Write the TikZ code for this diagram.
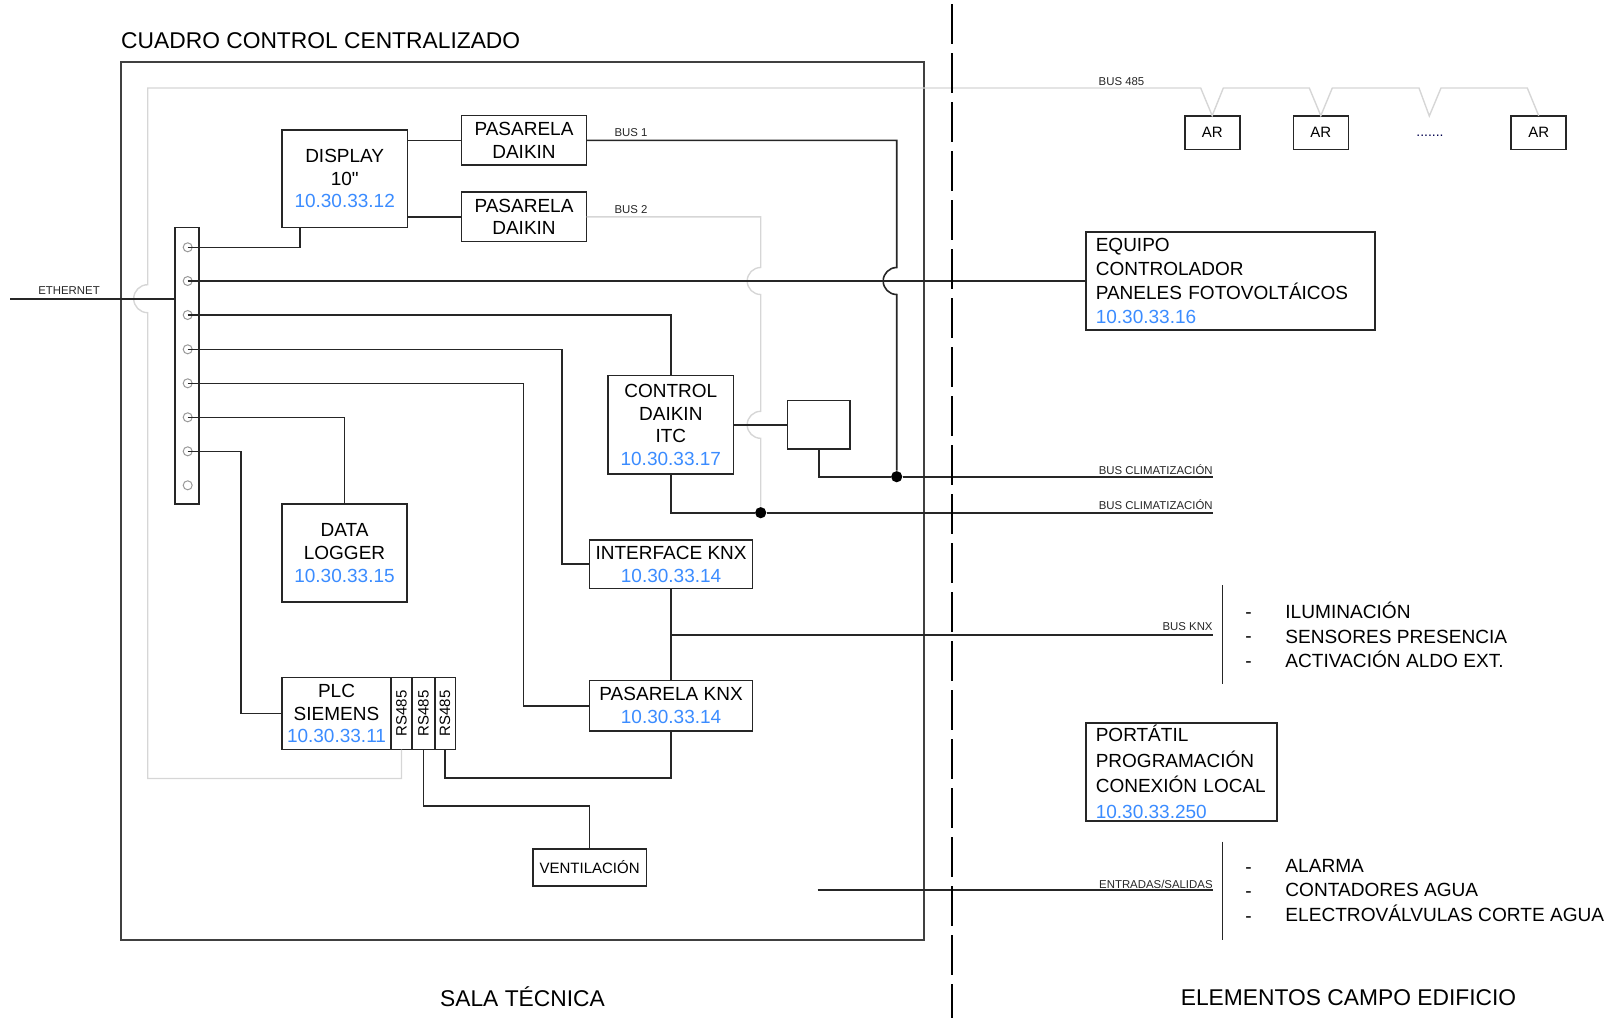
\documentclass[tikz,border=0pt]{standalone}
\usepackage{fontspec}
\setmainfont{Liberation Sans}
\newfontfamily\rectafont{Liberation Sans}
\usepackage{xcolor}
\usetikzlibrary{calc}
\definecolor{ipblue}{HTML}{3B8CFF}
\definecolor{busgray}{HTML}{D6D6D6}
\definecolor{wirecol}{HTML}{262626}

\begin{document}
\begin{tikzpicture}[
  x=0.5pt,
  y=-0.5pt,
  font=\fontsize{9.5}{11.3}\selectfont,
  wire/.style={line width=0.8pt, draw=wirecol},
  grayline/.style={line width=0.7pt, draw=busgray},
  cuadro/.style={line width=1pt, draw=black!75},
  divider/.style={line width=1.25pt, draw=black, dash pattern=on 20pt off 4.5pt, dash phase=22.35pt},
  unit/.style={draw=black!85, line width=0.8pt, fill=white, align=center, inner sep=0pt, outer sep=0pt},
  small/.style={unit, font=\fontsize{7.5}{9}\selectfont},
  termin/.style={circle, draw=black!40, line width=0.5pt, minimum size=4.5pt, inner sep=0pt},
  joint/.style={circle, fill=black, minimum size=5.6pt, inner sep=0pt},
  busname/.style={font=\fontsize{5.7}{7}\selectfont, text=black!85, inner sep=0pt},
  headline/.style={font=\fontsize{11.4}{13}\selectfont, inner sep=0pt},
  lista/.style={align=left, anchor=west, inner sep=0pt, font=\fontsize{9.55}{12.4}\selectfont}
]
\useasboundingbox (0,0) rectangle (1619,1018);

\node[headline, anchor=west] (title) at (120.8,41) {CUADRO CONTROL CENTRALIZADO};
\node[headline] (sala) at (522.5,996.5) {SALA TÉCNICA};
\node[headline] (campo) at (1348.5,997.5) {ELEMENTOS CAMPO EDIFICIO};

\coordinate (sepTop) at (952,0);
\coordinate (sepEnd) at (952,1018);
\node[draw=none, minimum width=401.6pt, minimum height=439pt, inner sep=0pt, outer sep=0pt] (cuadro) at (522.4,501) {};
\draw[cuadro] (cuadro.north west) rectangle (cuadro.south east);

% regleta
\node[unit, minimum width=12.2pt, minimum height=138.2pt] (bar) at (186.9,365.85) {};
\node[termin] (t1) at (187.7,247.3) {};
\node[termin] (t2) at (187.7,281) {};
\node[termin] (t3) at (187.7,315) {};
\node[termin] (t4) at (187.7,349.3) {};
\node[termin] (t5) at (187.7,383.3) {};
\node[termin] (t6) at (187.7,417.3) {};
\node[termin] (t7) at (187.7,451.3) {};
\node[termin] (t8) at (187.7,485.3) {};

% equipos del cuadro
\node[unit, minimum width=62.7pt, minimum height=48.8pt] (display) at (344.7,178.8)
  {DISPLAY\\10{\rectafont"}\\\textcolor{ipblue}{10.30.33.12}};
\node[unit, minimum width=62.5pt, minimum height=24.7pt] (pas1) at (524,140.3)
  {PASARELA\\DAIKIN};
\node[unit, minimum width=62.5pt, minimum height=24.8pt] (pas2) at (524,216.8)
  {PASARELA\\DAIKIN};
\node[unit, minimum width=62.8pt, minimum height=49.2pt] (control) at (670.8,424.8)
  {CONTROL\\DAIKIN\\ITC\\\textcolor{ipblue}{10.30.33.17}};
\node[unit, minimum width=31.2pt, minimum height=24.4pt] (conv) at (818.8,424.8) {};
\node[unit, minimum width=81.5pt, minimum height=24.3pt] (ifknx) at (671.1,564.2)
  {INTERFACE KNX\\\textcolor{ipblue}{10.30.33.14}};
\node[unit, minimum width=81.5pt, minimum height=25.3pt] (pasknx) at (671.1,705.7)
  {PASARELA KNX\\\textcolor{ipblue}{10.30.33.14}};
\node[unit, minimum width=62.5pt, minimum height=49pt] (logger) at (344.5,553)
  {DATA\\LOGGER\\\textcolor{ipblue}{10.30.33.15}};
\node[unit, minimum width=54.5pt, minimum height=36pt] (plc) at (336.5,713.5)
  {PLC\\SIEMENS\\\textcolor{ipblue}{10.30.33.11}};
\node[small, minimum width=10.5pt, minimum height=36pt] (rs1) at (401.5,713.5) {\rotatebox{90}{RS485}};
\node[small, minimum width=11.35pt, minimum height=36pt] (rs2) at (423.35,713.5) {\rotatebox{90}{RS485}};
\node[small, minimum width=10.35pt, minimum height=36pt] (rs3) at (445.05,713.5) {\rotatebox{90}{RS485}};
\node[small, minimum width=56.8pt, minimum height=18.6pt] (vent) at (589.6,867.4) {VENTILACIÓN};

% campo
\node[small, minimum width=27.5pt, minimum height=16.8pt] (ar1) at (1212.2,132.5) {AR};
\node[small, minimum width=27.5pt, minimum height=16.8pt] (ar2) at (1320.8,132.5) {AR};
\node[small, minimum width=27.5pt, minimum height=16.8pt] (ar3) at (1538.7,132.5) {AR};
\node[font=\fontsize{7}{8}\selectfont, text=black!70!blue, inner sep=0pt] (puntos) at (1430,136) {.......};
\node[unit, minimum width=144.5pt, minimum height=49pt, align=left, anchor=west, text width=134.7pt, inner xsep=4.9pt,
  font=\fontsize{9.5}{11.9}\selectfont] (equipo) at (1086,281)
  {EQUIPO\\CONTROLADOR\\PANELES FOTOVOLTÁICOS\\\textcolor{ipblue}{10.30.33.16}};
\node[unit, minimum width=95.5pt, minimum height=49pt, align=left, anchor=west, text width=85.7pt, inner xsep=4.9pt,
  font=\fontsize{9.5}{12.8}\selectfont] (portatil) at (1086,772)
  {PORTÁTIL\\PROGRAMACIÓN\\CONEXIÓN LOCAL\\\textcolor{ipblue}{10.30.33.250}};

\coordinate (ethIn) at (10,298.7);
\coordinate (bus1End) at (1213,476.7);
\coordinate (bus2End) at (1213,512.7);
\coordinate (knxEnd) at (1213,635);
\coordinate (ioStart) at (817.7,890);
\coordinate (ioEnd) at (1213,890);
\coordinate (listaA) at (1222.5,585);
\coordinate (listaB) at (1222.5,683.5);
\coordinate (listaC) at (1222.5,841.5);
\coordinate (listaD) at (1222.5,939.6);
\node[joint] (dot1) at (896.7,476.7) {};
\node[joint] (dot2) at (760.7,512.7) {};
\coordinate (grayCorner) at (147.7,778.5);
\coordinate (grayTop) at (147.7,88);

% buses en gris
\draw[grayline] (rs1.south) -- (rs1.south |- grayCorner) -- (grayCorner)
  -- ($(grayCorner |- ethIn)+(0,14)$) arc[start angle=90, end angle=270, radius=14]
  -- (grayTop) -- (1200.7,88) -- (ar1.north) -- (1223.3,88) -- (1309.3,88) -- (ar2.north)
  -- (1332.3,88) -- (1419,88) -- (1429.3,116) -- (1441,88) -- (1527.3,88) -- (ar3.north);
\draw[grayline] (pas2.east) -- (dot2 |- pas2.east)
  -- ($(dot2 |- t2)+(0,-13.5)$) arc[start angle=270, end angle=90, radius=13.5]
  -- ($(dot2 |- control.east)+(0,-13.5)$) arc[start angle=270, end angle=90, radius=13.5]
  -- (dot2);

% cableado
\draw[wire] (ethIn) -- (bar.west |- ethIn);
\draw[wire] (t1.center) -- (300,247.3) -- (300,227.7);
\draw[wire] (t2.center) -- (equipo.west |- t2);
\draw[wire] (t3.center) -| (control.north);
\draw[wire] (t4.center) -| (561.7,564.2) -- (ifknx.west);
\draw[wire] (t5.center) -| (523.5,705.7) -- (pasknx.west);
\draw[wire] (t6.center) -| (logger.north);
\draw[wire] (t7.center) -| (241,713.5) -- (plc.west);
\draw[wire] (pas1.west) -- (display.east |- pas1.west);
\draw[wire] (pas2.west) -- (display.east |- pas2.west);
\draw[wire] (pas1.east) -- (dot1 |- pas1.east)
  -- ($(dot1 |- t2)+(0,-13.5)$) arc[start angle=270, end angle=90, radius=13.5]
  -- (dot1);
\draw[wire] (control.east) -- (conv.west);
\draw[wire] (conv.south) |- (dot1) -- (bus1End);
\draw[wire] (control.south) |- (dot2) -- (bus2End);
\draw[wire] (ifknx.south) -- (pasknx.north);
\draw[wire] (ifknx.south |- knxEnd) -- (knxEnd);
\draw[wire] (rs2.south) -- ++(0,56.5) -| (vent.north);
\draw[wire] (rs3.south) -- ++(0,28.7) -| (pasknx.south);
\draw[wire] (ioStart) -- (ioEnd);
\draw[wire] (listaA) -- (listaB);
\draw[wire] (listaC) -- (listaD);
\draw[divider] (sepTop) -- (sepEnd);

% rotulos de bus
\node[busname] (ethLabel) at (69,290.5) {ETHERNET};
\node[busname] (bus485) at (1121.5,81.5) {BUS 485};
\node[busname] (busUno) at (631,133) {BUS 1};
\node[busname] (busDos) at (631,210) {BUS 2};
\node[busname, anchor=east] (climaA) at (1213,470) {BUS CLIMATIZACIÓN};
\node[busname, anchor=east] (climaB) at (1213,505) {BUS CLIMATIZACIÓN};
\node[busname, anchor=east] (busKnx) at (1213,627) {BUS KNX};
\node[busname, anchor=east] (ioLabel) at (1213,884) {ENTRADAS/SALIDAS};

% listas de campo
\node[lista] (guionA) at (1245,640) {-\\-\\-};
\node[lista] (listaKnx) at (1285,635) {ILUMINACIÓN\\SENSORES PRESENCIA\\ACTIVACIÓN ALDO EXT.};
\node[lista] (guionB) at (1245,895) {-\\-\\-};
\node[lista] (listaIo) at (1285,890.5) {ALARMA\\CONTADORES AGUA\\ELECTROVÁLVULAS CORTE AGUA};

\end{tikzpicture}
\end{document}
